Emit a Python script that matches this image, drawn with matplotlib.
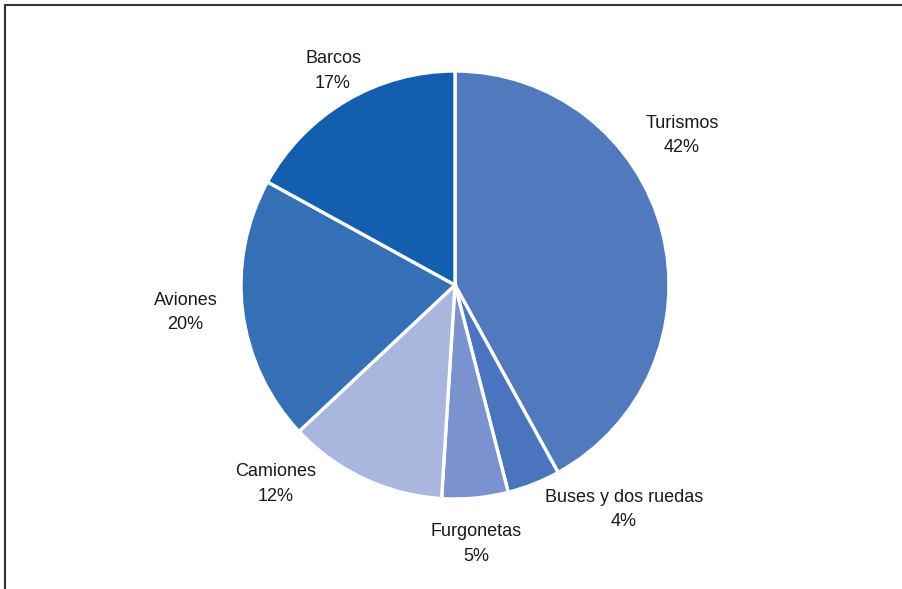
import matplotlib.pyplot as plt
from matplotlib.lines import Line2D

# datos del grafico
categorias = ['Turismos', 'Buses y dos ruedas', 'Furgonetas', 'Camiones', 'Aviones', 'Barcos']
porcentajes = [42, 4, 5, 12, 20, 17]
colores = ['#5079BE', '#4A74BD', '#7A93CF', '#A9B6DD', '#3570B7', '#135EAE']

# posicion de cada etiqueta (en radios del pastel)
pos_etiquetas = [(1.06, 0.70), (0.79, -1.05), (0.10, -1.21),
                 (-0.84, -0.93), (-1.26, -0.13), (-0.57, 1.00)]

W, H, DPI = 902, 589, 100
cx, cy, r = 455, 285, 214   # centro y radio en pixeles

fig = plt.figure(figsize=(W / DPI, H / DPI), dpi=DPI)
ax = fig.add_axes([0, 0, 1, 1])

ax.pie(porcentajes, colors=colores, startangle=90, counterclock=False,
       wedgeprops=dict(edgecolor='white', linewidth=2.4))

ax.set_xlim(-cx / r, (W - cx) / r)
ax.set_ylim(-(H - cy) / r, cy / r)
ax.set_aspect('equal')
ax.axis('off')

for nombre, pct, (x, y) in zip(categorias, porcentajes, pos_etiquetas):
    ax.text(x, y, f'{nombre}\n{pct}%', ha='center', va='center',
            fontsize=13, family='Liberation Sans', color='#1a1a1a',
            linespacing=1.55)

# marco superior e izquierdo
fig.add_artist(Line2D([4.5 / W, 4.5 / W], [0, 1 - 5 / H], transform=fig.transFigure,
                      color='#333333', linewidth=1.5))
fig.add_artist(Line2D([4.5 / W, 1], [1 - 5 / H, 1 - 5 / H], transform=fig.transFigure,
                      color='#333333', linewidth=1.5))

fig.savefig('out.png', dpi=DPI)
